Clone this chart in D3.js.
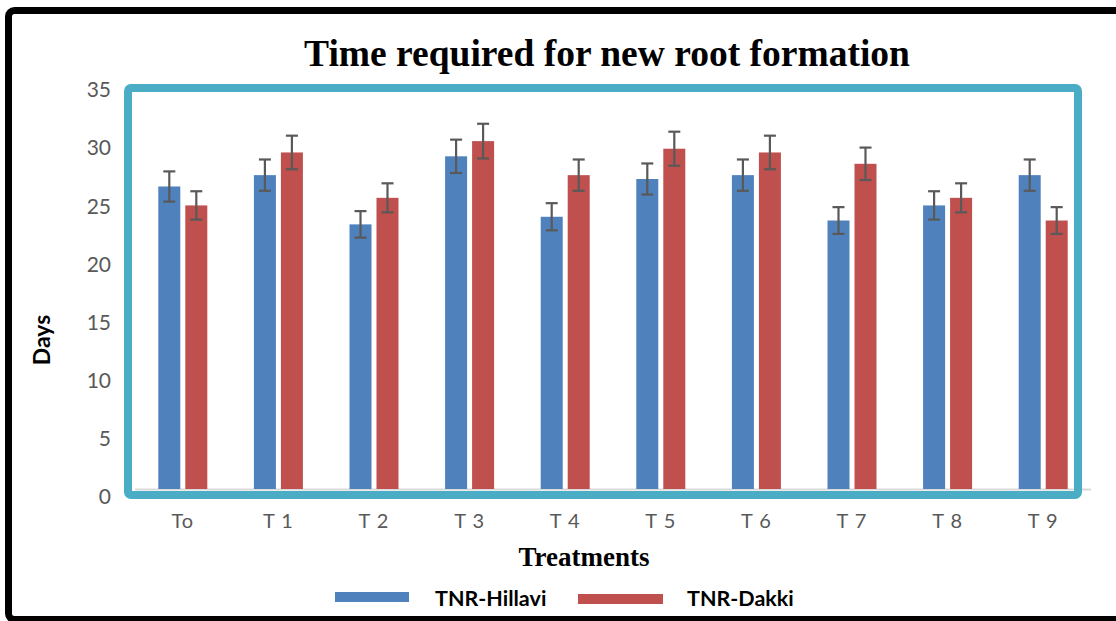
<!DOCTYPE html>
<html>
<head>
<meta charset="utf-8">
<script src="https://cdn.jsdelivr.net/npm/d3@7"></script>
<style>
  html, body { margin: 0; padding: 0; background: #fff; }
  #chart { width: 1116px; height: 621px; overflow: hidden; }
</style>
</head>
<body>
<div id="chart"></div>
<script>
// Data
const treatments = ['To', 'T 1', 'T 2', 'T 3', 'T 4', 'T 5', 'T 6', 'T 7', 'T 8', 'T 9'];
const seriesNames = ['TNR-Hillavi', 'TNR-Dakki'];
const hillavi = [26.67, 27.67, 23.33, 29.33, 24, 27.33, 27.67, 23.67, 25, 27.67];
const dakki = [25, 29.67, 25.67, 30.67, 27.67, 30, 29.67, 28.67, 25.67, 23.67];
const hillaviErr = [1.33, 1.38, 1.17, 1.47, 1.2, 1.37, 1.38, 1.18, 1.25, 1.38];
const dakkiErr = [1.25, 1.48, 1.28, 1.53, 1.38, 1.5, 1.48, 1.43, 1.28, 1.18];
const yTicks = [0, 5, 10, 15, 20, 25, 30, 35];

const colors = ['#4f81bd', '#c0504d'];

const makeChart = () => {
  const container = d3.select('#chart');
  container.selectAll('*').remove();

  const size = { width: 1116, height: 621 };
  const margin = { top: 92, right: 25, bottom: 132, left: 135 };

  const svg = container.append('svg').attr('width', size.width).attr('height', size.height);

  // outer black frame (cut off at the right and bottom)
  svg
    .append('rect')
    .attr('x', 8.5)
    .attr('y', 10.5)
    .attr('width', 1130)
    .attr('height', 609)
    .attr('rx', 6)
    .attr('fill', '#fff')
    .attr('stroke', '#000')
    .attr('stroke-width', 7);

  const rows = treatments.map((t, i) => ({
    name: t,
    values: [
      { key: seriesNames[0], v: hillavi[i], e: hillaviErr[i] },
      { key: seriesNames[1], v: dakki[i], e: dakkiErr[i] },
    ],
  }));

  /*
     Scales
   */
  const x0 = d3
    .scaleBand()
    .domain(treatments)
    .range([margin.left, size.width - margin.right]);

  const x1 = d3
    .scaleBand()
    .domain(seriesNames)
    .range([0, x0.bandwidth()])
    .paddingInner(0.185)
    .paddingOuter(0.863);

  const y = d3
    .scaleLinear()
    .domain([0, 35])
    .range([size.height - margin.bottom, margin.top]);

  // the tick labels in the figure sit a little lower than the bars' own scale
  const yLabel = d3.scaleLinear().domain([0, 35]).range([497, 90]);

  // y tick labels
  svg
    .append('g')
    .selectAll('text')
    .data(yTicks)
    .enter()
    .append('text')
    .text((d) => d)
    .attr('x', 111)
    .attr('y', (d) => yLabel(d))
    .attr('dy', '0.35em')
    .attr('text-anchor', 'end')
    .style('font-family', 'Lato, "Open Sans", sans-serif')
    .style('font-size', '21px')
    .attr('fill', '#595959');

  // baseline
  svg
    .append('line')
    .attr('x1', margin.left)
    .attr('x2', size.width - margin.right)
    .attr('y1', y(0) + 0.5)
    .attr('y2', y(0) + 0.5)
    .attr('stroke', '#d9d9d9')
    .attr('stroke-width', 2);

  /*
     Bars
   */
  const groups = svg
    .append('g')
    .selectAll('g')
    .data(rows)
    .enter()
    .append('g')
    .attr('transform', (d) => `translate(${x0(d.name)},0)`);

  groups
    .selectAll('rect')
    .data((d) => d.values)
    .enter()
    .append('rect')
    .attr('x', (d) => x1(d.key))
    .attr('width', x1.bandwidth())
    .attr('y', (d) => y(d.v))
    .attr('height', (d) => y(0) - y(d.v))
    .attr('fill', (d, i) => colors[i]);

  // error bars
  const capW = 12;
  const err = groups
    .selectAll('g.err')
    .data((d) => d.values)
    .enter()
    .append('g')
    .attr('class', 'err')
    .attr('stroke', '#595959')
    .attr('stroke-width', 2.2);

  err
    .append('line')
    .attr('x1', (d) => x1(d.key) + x1.bandwidth() / 2)
    .attr('x2', (d) => x1(d.key) + x1.bandwidth() / 2)
    .attr('y1', (d) => y(d.v + d.e))
    .attr('y2', (d) => y(d.v - d.e));

  err
    .append('line')
    .attr('x1', (d) => x1(d.key) + x1.bandwidth() / 2 - capW / 2)
    .attr('x2', (d) => x1(d.key) + x1.bandwidth() / 2 + capW / 2)
    .attr('y1', (d) => y(d.v + d.e))
    .attr('y2', (d) => y(d.v + d.e));

  err
    .append('line')
    .attr('x1', (d) => x1(d.key) + x1.bandwidth() / 2 - capW / 2)
    .attr('x2', (d) => x1(d.key) + x1.bandwidth() / 2 + capW / 2)
    .attr('y1', (d) => y(d.v - d.e))
    .attr('y2', (d) => y(d.v - d.e));

  // x tick labels
  svg
    .append('g')
    .selectAll('text')
    .data(treatments)
    .enter()
    .append('text')
    .text((d) => d)
    .attr('x', (d) => x0(d) + x0.bandwidth() / 2)
    .attr('y', 528)
    .attr('text-anchor', 'middle')
    .style('font-family', 'Lato, "Open Sans", sans-serif')
    .style('font-size', '20px')
    .style('letter-spacing', '1px')
    .attr('fill', '#595959');

  // teal frame drawn over the plot
  svg
    .append('rect')
    .attr('x', 128)
    .attr('y', 88)
    .attr('width', 950)
    .attr('height', 407)
    .attr('rx', 3)
    .attr('fill', 'none')
    .attr('stroke', '#4bacc6')
    .attr('stroke-width', 8);

  // titles
  svg
    .append('text')
    .text('Time required for new root formation')
    .attr('x', 607)
    .attr('y', 66)
    .attr('text-anchor', 'middle')
    .style('font-family', '"Liberation Serif", "Times New Roman", serif')
    .style('font-weight', 'bold')
    .style('font-size', '37.5px')
    .attr('fill', '#000');

  svg
    .append('text')
    .text('Treatments')
    .attr('x', 584)
    .attr('y', 566)
    .attr('text-anchor', 'middle')
    .style('font-family', '"Liberation Serif", "Times New Roman", serif')
    .style('font-weight', 'bold')
    .style('font-size', '27px')
    .attr('fill', '#000');

  svg
    .append('text')
    .text('Days')
    .attr('transform', 'translate(50, 340) rotate(-90)')
    .attr('text-anchor', 'middle')
    .style('font-family', 'Lato, "Open Sans", sans-serif')
    .style('font-weight', 'bold')
    .style('font-size', '23px')
    .attr('fill', '#000');

  // legend
  const legend = svg.append('g');
  const legendItems = [
    { name: seriesNames[0], sx: 335, sw: 74, sy: 592, tx: 435 },
    { name: seriesNames[1], sx: 578, sw: 85, sy: 594, tx: 687 },
  ];
  legendItems.forEach((item, i) => {
    legend
      .append('rect')
      .attr('x', item.sx)
      .attr('y', item.sy)
      .attr('width', item.sw)
      .attr('height', 10)
      .attr('fill', colors[i]);
    legend
      .append('text')
      .text(item.name)
      .attr('x', item.tx)
      .attr('y', 606)
      .style('font-family', 'Lato, "Open Sans", sans-serif')
      .style('font-weight', 'bold')
      .style('font-size', '21.5px')
      .attr('fill', '#000');
  });
};

makeChart();
</script>
</body>
</html>
